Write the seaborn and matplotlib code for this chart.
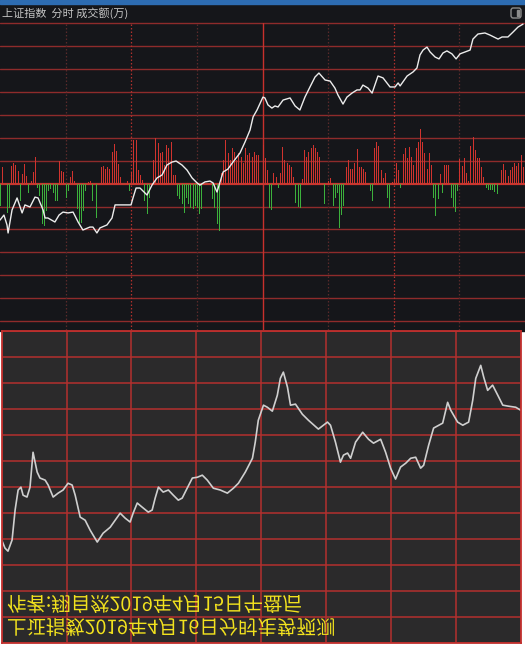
import numpy as np
import pandas as pd
import matplotlib
matplotlib.use('Agg')
import matplotlib.pyplot as plt
import seaborn as sns
from matplotlib.patches import Rectangle, FancyBboxPatch
from matplotlib.patheffects import AbstractPathEffect
from matplotlib.transforms import Affine2D

# ---- data: 上证指数 intraday (minutes after 9:30) ----
idx_min = [0, 1.8, 3.2, 3.7, 5.5, 7.8, 10.1, 11.4, 13.7, 16, 17.4, 19.7, 20.6, 21.9, 25.1,
           27, 28.8, 31.1, 33.4, 35.7, 37.9, 41.1, 42.5, 44.3, 45.7, 48.9, 51.2, 52.6, 58.1,
           59.9, 60.8, 62.2, 64, 67.2, 69.5, 71.8, 74.1, 76.3, 78.6, 80.5, 83.2, 85.5, 87.8,
           90.1, 91.4, 93.7, 96, 97.4, 99.2, 100.6, 102, 104.2, 106.5, 109.7, 112, 114.3,
           115.7, 117.5, 120.2, 121.1, 122.5, 124.3, 125.7, 127.1, 129.4, 132.6, 134.9, 137.1,
           139.4, 141.7, 144, 145.8, 148.6, 150.9, 153.1, 154.5, 156.8, 158.6, 160.9, 163.2,
           164.6, 165.9, 168.2, 170.1, 172.8, 175.1, 178.3, 180.6, 182, 182.9, 186.1, 188.8,
           190.6, 192, 193.4, 195.2, 196.6, 198.9, 200.7, 202.5, 204.3, 206.6, 208.5, 210.3,
           212.6, 214.9, 216.2, 218.5, 221.7, 224, 227.7, 229.5, 232.2, 234.5, 236.8, 239.1]
idx_price = [3160.5, 3162.9, 3158.2, 3154.4, 3165.3, 3171.0, 3163.9, 3167.7, 3166.7, 3171.4,
             3171.0, 3165.3, 3161.5, 3161.5, 3159.6, 3162.9, 3164.3, 3163.9, 3164.3, 3159.6,
             3155.8, 3157.2, 3157.2, 3154.4, 3156.8, 3158.2, 3161.5, 3167.7, 3167.7, 3167.7,
             3171.0, 3175.7, 3175.7, 3172.4, 3177.1, 3180.5, 3181.9, 3186.6, 3188.0, 3188.5,
             3186.6, 3184.2, 3180.5, 3178.1, 3177.1, 3178.6, 3179.0, 3178.1, 3173.8, 3178.6,
             3183.3, 3184.7, 3188.0, 3192.3, 3197.5, 3203.2, 3209.4, 3212.7, 3218.8, 3218.4,
             3215.1, 3213.6, 3214.6, 3214.1, 3217.4, 3218.4, 3214.6, 3212.7, 3218.8, 3223.6,
             3228.3, 3230.2, 3226.9, 3226.4, 3223.1, 3219.8, 3215.5, 3218.8, 3220.7, 3222.2,
             3222.2, 3224.5, 3223.1, 3220.7, 3228.8, 3227.9, 3223.6, 3223.6, 3225.5, 3224.1,
             3228.8, 3230.7, 3232.6, 3238.8, 3241.1, 3242.5, 3240.2, 3237.8, 3236.9, 3239.7,
             3240.7, 3239.3, 3236.9, 3239.3, 3240.2, 3241.1, 3246.3, 3248.7, 3249.2, 3248.2,
             3246.3, 3247.3, 3247.3, 3249.6, 3252.0, 3253.4]
prev_close = 3177.8

# 成交额 bars (signed: up = red, down = green)
bar_min = [0, 1, 3, 4, 5, 6, 7, 8, 9, 10, 11, 12, 13, 14, 15, 16, 17, 18, 19, 20, 21, 22, 23, 24,
           25, 26, 27, 28, 29, 30, 31, 32, 33, 34, 35, 36, 37, 38, 39, 40, 41, 42, 44, 46, 47,
           48, 49, 50, 51, 52, 53, 54, 55, 58, 59, 60, 61, 62, 63, 64, 65, 66, 67, 68, 70, 71,
           72, 73, 74, 75, 76, 77, 78, 79, 80, 81, 82, 83, 84, 85, 86, 87, 88, 89, 90, 91, 92,
           97, 98, 99, 100, 101, 102, 103, 104, 105, 106, 107, 108, 109, 110, 111, 112, 113,
           114, 115, 116, 117, 118, 120, 121, 122, 123, 124, 125, 126, 127, 128, 129, 130, 131,
           132, 133, 134, 135, 136, 137, 138, 139, 140, 141, 142, 143, 144, 145, 146, 148, 150,
           151, 152, 153, 154, 155, 156, 157, 158, 159, 160, 161, 162, 163, 164, 165, 166, 167,
           169, 170, 171, 172, 173, 174, 175, 176, 177, 178, 179, 180, 181, 182, 183, 184, 185,
           186, 187, 188, 189, 190, 191, 192, 193, 194, 195, 196, 197, 198, 199, 200, 201, 202,
           203, 204, 205, 206, 207, 208, 209, 210, 211, 212, 213, 214, 215, 216, 217, 218, 219,
           220, 221, 222, 223, 224, 225, 226, 227, 228, 229, 230, 231, 232, 233, 234, 235, 236,
           237, 238, 239]
bar_amt = [-21, 17, -28, -23, 18, 21, 19, 13, -16, 10, 20, 8, -8, 3, 12, 27, -3, -11, -39, -41,
           -26, -6, -4, -8, -16, -16, 23, 13, 12, -13, -6, 7, 13, 3, -24, -38, -38, -26, -6, 2,
           3, -16, -33, 17, 18, 15, 17, 15, 32, 40, 33, 20, 7, 3, -6, 12, 44, 44, 14, 9, 4, -16,
           -29, -13, 24, 46, 41, 31, 32, 19, 39, 36, 42, 9, 9, -11, -14, -19, -28, -13, -19,
           -23, -24, -21, -23, -29, -24, -14, -23, -39, -46, 11, 24, 44, 31, 24, 36, 32, 24, 31,
           27, 21, 36, 29, 31, 27, 32, 29, 29, 39, 26, 14, -23, -25, 11, 7, -3, 11, 37, 24, 21,
           19, 17, 7, -18, -22, -23, 5, 34, 27, 32, 36, 39, 36, 32, 27, -19, 3, 6, -21, -13, -8,
           -43, -30, -21, 17, 24, 15, 15, 21, 35, 17, 17, 15, 12, -6, -16, 36, 42, 38, 14, 6,
           11, -13, -23, 2, 4, 21, 14, -3, 30, 36, 26, 37, 27, 19, 36, 42, 55, 42, 31, 15, 31,
           19, -13, -31, -14, 10, -8, 19, 19, 19, -13, -22, -27, -6, 25, 18, 26, 11, 3, 38, 47,
           34, 26, 26, 17, 7, -3, -5, -5, -5, -7, -9, 1, 14, 20, 14, 8, 14, 17, 21, 18, 21, 29,
           17]

# forecast chart (lower panel)
fc_min = [0, 1.5, 2.9, 4.8, 6.2, 7.6, 8.9, 9.9, 11.7, 13.1, 14.5, 16.4, 17.7, 20.1, 21.5, 23.8,
          26.1, 28.4, 30.7, 32.6, 34, 36.3, 38.6, 40.9, 44.2, 46.9, 50.2, 52.5, 54.8, 57.1,
          59.4, 60.8, 62.7, 65, 67.8, 69.6, 71, 72.5, 74.7, 77.1, 79.4, 81.7, 83.5, 85.8, 88.2,
          90.5, 92.8, 95.1, 97.9, 101.1, 104.4, 107.2, 109.5, 112.7, 116, 117.3, 118.7, 121.1,
          122.9, 125.2, 127.5, 128.9, 130.3, 132.2, 133.6, 135.9, 139.1, 141.9, 146.5, 150.7,
          152.1, 154.4, 156.7, 158.1, 160, 161.4, 163.7, 167, 169.7, 172, 175.3, 177.6, 179.9,
          182.2, 184.5, 186.9, 189.2, 191.5, 193.8, 195.2, 197.5, 199.8, 204, 206.3, 207.7,
          210.9, 213.3, 216, 217.9, 219.3, 221.6, 223, 224.8, 227.1, 229.5, 231.8, 234.5,
          237.8, 240]
fc_val = [3189.7, 3186.6, 3185.4, 3189.7, 3201.2, 3208.9, 3210.0, 3206.9, 3206.2, 3210.0,
          3223.4, 3215.8, 3213.5, 3212.7, 3210.8, 3206.2, 3207.7, 3208.9, 3211.5, 3210.8,
          3206.9, 3198.5, 3197.3, 3193.5, 3188.9, 3192.3, 3194.6, 3197.3, 3200.0, 3198.1,
          3196.6, 3200.0, 3203.9, 3202.3, 3200.4, 3201.2, 3205.8, 3210.0, 3208.1, 3208.9,
          3206.9, 3205.0, 3205.8, 3209.6, 3213.5, 3213.8, 3214.6, 3212.7, 3209.6, 3208.9,
          3207.7, 3209.6, 3211.5, 3215.8, 3221.1, 3227.3, 3235.7, 3241.5, 3240.7, 3239.2,
          3245.3, 3251.8, 3254.2, 3248.4, 3241.5, 3241.9, 3238.0, 3235.7, 3232.3, 3235.0,
          3233.8, 3227.3, 3219.6, 3222.3, 3223.1, 3221.1, 3227.3, 3231.1, 3228.4, 3226.9,
          3228.4, 3223.4, 3217.3, 3213.1, 3217.7, 3219.2, 3221.1, 3221.5, 3217.3, 3218.4,
          3226.1, 3232.7, 3234.6, 3242.6, 3239.6, 3235.0, 3233.8, 3235.0, 3243.4, 3251.8,
          3256.8, 3252.2, 3247.2, 3249.2, 3245.3, 3241.5, 3241.1, 3240.7, 3239.6]

header = "上证指数  分时 成交额(万)"
note_lines = ["作者:翔自然2019年4月15日午盘后", "上证指数2019年4月16日分时走势预测"]


class FlipV(AbstractPathEffect):
    # mirror the text upside down about its own centre
    def draw_path(self, renderer, gc, tpath, affine, rgbFace=None):
        bb = tpath.get_extents(affine)
        cy = (bb.y0 + bb.y1) / 2
        flip = affine + Affine2D().translate(0, -cy).scale(1, -1).translate(0, cy)
        renderer.draw_path(gc, tpath, flip, rgbFace)


sns.set_style('dark')
plt.rcParams['font.family'] = ['Noto Sans CJK SC', 'DejaVu Sans']

W, H = 525, 645
fig = plt.figure(figsize=(W / 100, H / 100), dpi=100, facecolor='white')


def fx(px):
    return px / W


def fy(py):
    return 1 - py / H


dark = '#15161a'
# background of the upper window (behind the axes)
fig.patches.append(Rectangle((0, fy(331)), 1, 331 / H, transform=fig.transFigure,
                             color=dark, zorder=-5))
fig.patches.append(Rectangle((0, fy(4)), 1, 4 / H, transform=fig.transFigure,
                             color='#2d6cb2', zorder=-4))
fig.patches.append(FancyBboxPatch((fx(511), fy(18)), 10 / W, 10 / H,
                                  boxstyle='round,pad=0,rounding_size=0.004',
                                  transform=fig.transFigure, fc='none', ec='#8c8c8c', lw=1))
fig.patches.append(Rectangle((fx(516.5), fy(16)), 2.5 / W, 6 / H, transform=fig.transFigure,
                             color='#8c8c8c'))
fig.text(fx(2), fy(13.5), header, color='#c4c4c4', fontsize=8, va='center', ha='left')

# ---- top panel ----
ax = fig.add_axes([0, fy(330), 1, (330 - 23.3) / H])
ax.set_facecolor(dark)
ax.set_xlim(0, 240)
ax.set_ylim(-146.4, 160.3)
for k in range(-6, 8):
    if k == 0:
        ax.axhline(0, color='#c23a30', lw=1.6, zorder=1)
    else:
        ax.axhline(k * 22.9, color='#8e2b2b', lw=1.0, zorder=1, clip_on=False)
for m in [30, 60, 90, 150, 180, 210]:
    c = '#b2302c' if m in (60, 180) else '#5a2a2a'
    ax.axvline(m, color=c, lw=0.9, ls=(0, (1.2, 1.6)), zorder=1)
ax.axvline(120, color='#c8302c', lw=1.0, zorder=1)

amt = np.array(bar_amt)
ax.vlines(bar_min, 0, amt, colors=np.where(amt > 0, '#d0332e', '#3cb03c'),
          lw=0.55, antialiased=False, zorder=2)

ax2 = ax.twinx()
ax2.set_ylim(prev_close - 146.4 * 0.474, prev_close + 160.3 * 0.474)
sns.lineplot(x=idx_min, y=idx_price, ax=ax2, color='#ececec', lw=1.0)

for a in (ax, ax2):
    a.set_xticks([])
    a.set_yticks([])
    a.set_xlabel('')
    a.set_ylabel('')
    for s in a.spines.values():
        s.set_visible(False)

# ---- bottom panel ----
ax3 = fig.add_axes([fx(1.7), fy(643.3), (520.5 - 1.7) / W, (643.3 - 331) / H])
ax3.set_facecolor('#2b2a2b')
ax3.set_xlim(0, 240)
ax3.set_ylim(3150, 3270)
ax3.set_xticks(range(0, 241, 30))
ax3.set_yticks(range(3150, 3271, 10))
ax3.grid(True, color='#b3302e', lw=1.1)
ax3.tick_params(length=0, labelbottom=False, labelleft=False)
for s in ax3.spines.values():
    s.set_color('#c0302e')
    s.set_linewidth(1.3)
sns.lineplot(x=fc_min, y=fc_val, ax=ax3, color='#cfcfcf', lw=1.2)
ax3.set_xlabel('')
ax3.set_ylabel('')

for txt, yc in zip(note_lines, [606, 629]):
    fig.text(fx(7), fy(yc), txt, color='#f2e21e', fontsize=14,
             family='Noto Sans CJK SC', va='center', ha='left',
             path_effects=[FlipV()])

fig.savefig('out.png', dpi=100, facecolor=fig.get_facecolor())
